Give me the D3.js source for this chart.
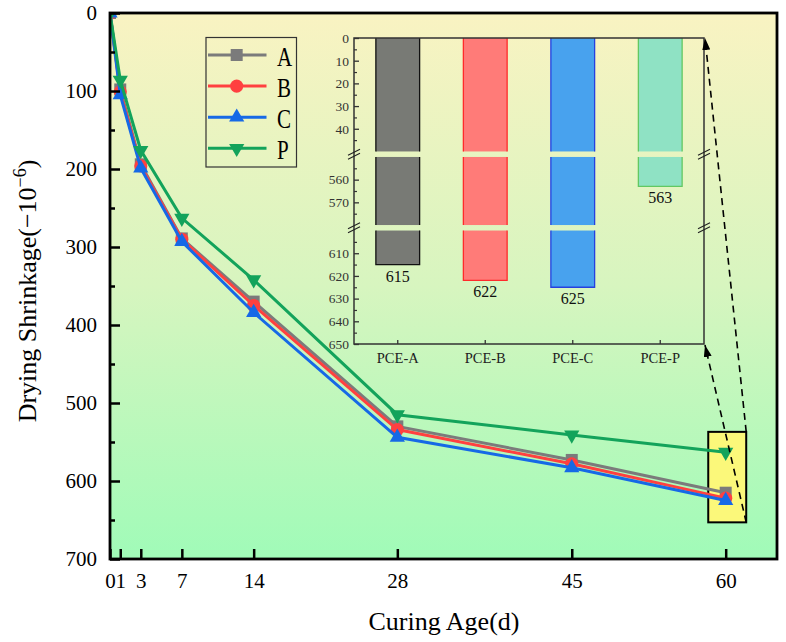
<!DOCTYPE html>
<html>
<head>
<meta charset="utf-8">
<script src="https://cdn.jsdelivr.net/npm/d3@7"></script>
<style>
  html, body { margin: 0; padding: 0; background: #fff; }
  svg { display: block; }
</style>
</head>
<body>
<div id="chart"></div>
<script>
// ---------------- data ----------------
const days = [0, 1, 3, 7, 14, 28, 45, 60];
const dayTicks = [0, 1, 3, 7, 14, 28, 45, 60];
const seriesNames = ["A", "B", "C", "P"];
const valuesA = [0, 98, 194, 289, 370, 530, 573, 615];
const valuesB = [0, 101, 196, 290, 375, 534, 578, 622];
const valuesC = [0, 105, 199, 293, 384, 544, 583, 625];
const valuesP = [0, 86, 176, 263, 342, 515, 541, 563];
const yTicks = [0, 100, 200, 300, 400, 500, 600, 700];

const insetCategories = ["PCE-A", "PCE-B", "PCE-C", "PCE-P"];
const insetValues = [615, 622, 625, 563];
const insetSegments = [[0, 50], [550, 580], [600, 650]];
const insetMajorTicks = [[0, 10, 20, 30, 40], [560, 570], [610, 620, 630, 640, 650]];
const insetMinorTicks = [[5, 15, 25, 35, 45], [555, 565, 575], [605, 615, 625, 635, 645]];

const zoomBoxX = [58.3, 62];
const zoomBoxY = [537, 653];

// ---------------- styles ----------------
const colors = { A: "#7b7b7b", B: "#ff4040", C: "#1669e6", P: "#13a35b" };
const barFill = ["#787a75", "#ff7b78", "#48a2ee", "#8fe2c4"];
const barStroke = ["#111111", "#ff2a2a", "#2540e0", "#62c862"];
const serif = "'Liberation Serif', 'Times New Roman', serif";

const W = 786, H = 642;
const svg = d3.select("#chart").append("svg").attr("width", W).attr("height", H);
const defs = svg.append("defs");

const L = 110, R = 777, T = 13, B = 559;
const x = d3.scaleLinear().domain([0, 65]).range([L, R]);
const y = d3.scaleLinear().domain([0, 700]).range([T, B]);

// gradient background
const grad = defs.append("linearGradient").attr("id", "bg")
  .attr("gradientUnits", "userSpaceOnUse").attr("x1", 0).attr("y1", T).attr("x2", 0).attr("y2", B);
grad.append("stop").attr("offset", 0).attr("stop-color", "#f9f3c2");
grad.append("stop").attr("offset", 0.5).attr("stop-color", "#d7f5bf");
grad.append("stop").attr("offset", 1).attr("stop-color", "#a0fbb8");

defs.append("clipPath").attr("id", "plotClip").append("rect")
  .attr("x", L).attr("y", T).attr("width", R - L).attr("height", B - T);

const arrow = defs.append("marker").attr("id", "arrow")
  .attr("viewBox", "0 0 12 8").attr("refX", 12).attr("refY", 4)
  .attr("markerWidth", 12).attr("markerHeight", 8)
  .attr("markerUnits", "userSpaceOnUse").attr("orient", "auto");
arrow.append("path").attr("d", "M0,0 L12,4 L0,8 Z").attr("fill", "#000");

svg.append("rect").attr("x", L).attr("y", T).attr("width", R - L).attr("height", B - T)
  .attr("fill", "url(#bg)");

// zoom box
svg.append("rect")
  .attr("x", x(zoomBoxX[0])).attr("y", y(zoomBoxY[0]))
  .attr("width", x(zoomBoxX[1]) - x(zoomBoxX[0]))
  .attr("height", y(zoomBoxY[1]) - y(zoomBoxY[0]))
  .attr("fill", "#fbf87a").attr("stroke", "#000").attr("stroke-width", 2);

// ---------------- series ----------------
const symbols = {
  A: { type: d3.symbolSquare, size: 144, rot: 0 },
  B: { type: d3.symbolCircle, size: 135, rot: 0 },
  C: { type: d3.symbolTriangle, size: 100, rot: 0 },
  P: { type: d3.symbolTriangle, size: 100, rot: 180 }
};
const allSeries = [
  { name: "A", values: valuesA },
  { name: "B", values: valuesB },
  { name: "C", values: valuesC },
  { name: "P", values: valuesP }
];
const plot = svg.append("g").attr("clip-path", "url(#plotClip)");
const line = d3.line().x(d => x(d[0])).y(d => y(d[1]));
allSeries.forEach(s => {
  const pts = days.map((d, i) => [d, s.values[i]]);
  const g = plot.append("g");
  g.append("path").attr("d", line(pts)).attr("fill", "none")
    .attr("stroke", colors[s.name]).attr("stroke-width", 3);
  const sym = symbols[s.name];
  g.selectAll("path.m").data(pts).join("path").attr("class", "m")
    .attr("d", d3.symbol().type(sym.type).size(sym.size)())
    .attr("transform", d => `translate(${x(d[0])},${y(d[1])}) rotate(${sym.rot})`)
    .attr("fill", colors[s.name]);
});

// ---------------- main axes ----------------
const yAxis = d3.axisLeft(y).tickValues(yTicks).tickSize(-10).tickPadding(13).tickFormat(d3.format("d"));
const yg = svg.append("g").attr("transform", `translate(${L},0)`).call(yAxis);
yg.select(".domain").remove();
yg.selectAll(".tick line").attr("stroke", "#000").attr("stroke-width", 2.5);
yg.selectAll(".tick text").attr("font-family", serif).attr("font-size", 21).attr("fill", "#000");
const yMinor = d3.axisLeft(y).tickValues(d3.range(50, 700, 100)).tickSize(-5).tickFormat("");
const ymg = svg.append("g").attr("transform", `translate(${L},0)`).call(yMinor);
ymg.select(".domain").remove();
ymg.selectAll(".tick line").attr("stroke", "#000").attr("stroke-width", 2.5);

const xAxis = d3.axisBottom(x).tickValues(dayTicks).tickSize(-10).tickPadding(14).tickFormat(d3.format("d"));
const xg = svg.append("g").attr("transform", `translate(0,${B})`).call(xAxis);
xg.select(".domain").remove();
xg.selectAll(".tick line").attr("stroke", "#000").attr("stroke-width", 2.5);
xg.selectAll(".tick text").attr("font-family", serif).attr("font-size", 21).attr("fill", "#000");

svg.append("rect").attr("x", L).attr("y", T).attr("width", R - L).attr("height", B - T)
  .attr("fill", "none").attr("stroke", "#000").attr("stroke-width", 2.8);

// axis titles
svg.append("text").attr("x", 444).attr("y", 630).attr("text-anchor", "middle")
  .attr("font-family", serif).attr("font-size", 26).text("Curing Age(d)");
const yt = svg.append("text").attr("transform", "translate(36,291) rotate(-90)")
  .attr("text-anchor", "middle").attr("font-family", serif).attr("font-size", 26);
yt.append("tspan").text("Drying Shrinkage(\u221210");
yt.append("tspan").attr("dy", -10).attr("font-size", 18).text("\u22126");
yt.append("tspan").attr("dy", 10).text(")");

// ---------------- legend ----------------
const lg = svg.append("g");
lg.append("rect").attr("x", 206).attr("y", 37.5).attr("width", 90.5).attr("height", 129.5)
  .attr("fill", "none").attr("stroke", "#333").attr("stroke-width", 1.2);
seriesNames.forEach((n, i) => {
  const ly = 55 + i * 31.1;
  lg.append("line").attr("x1", 208).attr("x2", 266.5).attr("y1", ly).attr("y2", ly)
    .attr("stroke", colors[n]).attr("stroke-width", 3);
  const sym = symbols[n];
  lg.append("path").attr("d", d3.symbol().type(sym.type).size(sym.size)())
    .attr("transform", `translate(236.7,${ly}) rotate(${sym.rot})`).attr("fill", colors[n]);
  lg.append("text").attr("transform", `translate(277,${ly + 10.5}) scale(0.75,1)`)
    .attr("font-family", serif).attr("font-size", 28).text(n);
});

// ---------------- inset ----------------
const IL = 354, IR = 704, IT = 38, IB = 344, gap = 5.5;
const totalUnits = d3.sum(insetSegments, s => s[1] - s[0]);
const pxPerUnit = (IB - IT - gap * (insetSegments.length - 1)) / totalUnits;
let cursor = IT;
const segScales = insetSegments.map(s => {
  const h = (s[1] - s[0]) * pxPerUnit;
  const sc = d3.scaleLinear().domain(s).range([cursor, cursor + h]);
  cursor += h + gap;
  return sc;
});
const bx = d3.scaleBand().domain(insetCategories).range([IL, IR]).paddingInner(0.5).paddingOuter(0.25);

const inset = svg.append("g");
insetCategories.forEach((c, i) => {
  const v = insetValues[i];
  const x0 = bx(c), x1 = bx(c) + bx.bandwidth();
  insetSegments.forEach((s, k) => {
    if (v <= s[0]) return;
    const sc = segScales[k];
    const top = sc(s[0]), bot = sc(Math.min(v, s[1]));
    inset.append("rect").attr("x", x0).attr("y", top).attr("width", x1 - x0).attr("height", bot - top)
      .attr("fill", barFill[i]);
    const isEnd = v <= s[1];
    const p = isEnd ? `M${x0},${top}V${bot}H${x1}V${top}` : `M${x0},${top}V${bot}M${x1},${top}V${bot}`;
    inset.append("path").attr("d", p).attr("fill", "none").attr("stroke", barStroke[i]).attr("stroke-width", 1.3);
    if (isEnd) {
      inset.append("text").attr("x", (x0 + x1) / 2).attr("y", bot + 17).attr("text-anchor", "middle")
        .attr("font-family", serif).attr("font-size", 16).attr("fill", "#111").text(v);
    }
  });
});

// inset axes
insetSegments.forEach((s, k) => {
  const g = inset.append("g").attr("transform", `translate(${IL},0)`)
    .call(d3.axisLeft(segScales[k]).tickValues(insetMajorTicks[k]).tickSize(-5).tickPadding(5));
  g.select(".domain").remove();
  g.selectAll(".tick line").attr("stroke", "#333").attr("stroke-width", 1.3);
  g.selectAll(".tick text").attr("font-family", serif).attr("font-size", 13.5).attr("fill", "#333");
  const gm = inset.append("g").attr("transform", `translate(${IL},0)`)
    .call(d3.axisLeft(segScales[k]).tickValues(insetMinorTicks[k]).tickSize(-3).tickFormat(""));
  gm.select(".domain").remove();
  gm.selectAll(".tick line").attr("stroke", "#333").attr("stroke-width", 1.2);
});
const ixg = inset.append("g").attr("transform", `translate(0,${IB})`)
  .call(d3.axisBottom(bx).tickSize(-4).tickPadding(9));
ixg.select(".domain").remove();
ixg.selectAll(".tick line").attr("stroke", "#333").attr("stroke-width", 1.3);
ixg.selectAll(".tick text").attr("font-family", serif).attr("font-size", 14.5).attr("fill", "#222");

inset.append("path").attr("d", `M${IL},${IT}H${IR}V${IB}H${IL}Z`).attr("fill", "none")
  .attr("stroke", "#333").attr("stroke-width", 1.5);

// break marks
const breakYs = [segScales[0].range()[1] + gap / 2, segScales[1].range()[1] + gap / 2];
[IL, IR].forEach(ax => {
  breakYs.forEach(by => {
    [-2, 2].forEach(o => {
      inset.append("line").attr("x1", ax - 6).attr("y1", by + 3 + o).attr("x2", ax + 6).attr("y2", by - 3 + o)
        .attr("stroke", "#222").attr("stroke-width", 1.2);
    });
  });
});

// dashed zoom connectors
svg.append("line").attr("x1", x(zoomBoxX[1])).attr("y1", y(zoomBoxY[1]))
  .attr("x2", IR + 1).attr("y2", IB + 1)
  .attr("stroke", "#000").attr("stroke-width", 1.6).attr("stroke-dasharray", "7,5")
  .attr("marker-end", "url(#arrow)");
svg.append("line").attr("x1", x(zoomBoxX[1])).attr("y1", y(zoomBoxY[0]))
  .attr("x2", IR + 1).attr("y2", IT)
  .attr("stroke", "#000").attr("stroke-width", 1.6).attr("stroke-dasharray", "7,5")
  .attr("marker-end", "url(#arrow)");
</script>
</body>
</html>
